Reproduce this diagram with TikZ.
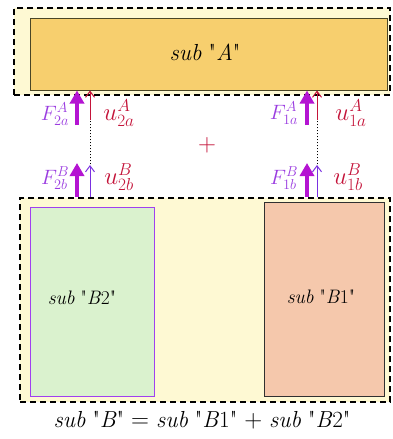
\documentclass[tikz,border=0pt]{standalone}
\usetikzlibrary{arrows.meta,positioning,calc}
\definecolor{cream}{HTML}{FEF9D3}
\definecolor{amber}{HTML}{F7CF6E}
\definecolor{olive}{HTML}{4A4626}
\definecolor{mint}{HTML}{DAF2CE}
\definecolor{violet}{HTML}{A040F0}
\definecolor{salmon}{HTML}{F5C8AC}
\definecolor{coal}{HTML}{303030}
\definecolor{fpurple}{HTML}{B414D2}
\definecolor{flabel}{HTML}{9A3CE0}
\definecolor{crimson}{HTML}{C4143A}
\definecolor{ubpurple}{HTML}{7A30E0}
\newcommand{\qq}[1]{\textquotedbl#1\textquotedbl}
\tikzset{outer/.style={draw=black,dash pattern=on 6pt off 4pt,line width=1.3pt,fill=cream,inner sep=0pt}, subbox/.style={draw,line width=1pt,inner sep=0pt}, farrow/.style={-{Triangle[length=13pt,width=14pt]},line width=4.5pt,draw=fpurple}, uarrow/.style={-{Straight Barb[length=6pt,width=9pt]},line width=1pt,draw=crimson}, ubarrow/.style={uarrow,draw=ubpurple}, flab/.style={text=flabel,font=\fontsize{20}{22}\selectfont}, ulab/.style={text=crimson,font=\fontsize{24}{26}\selectfont}, big/.style={font=\fontsize{23.2}{26}\selectfont}, mid/.style={font=\fontsize{17.28}{20}\selectfont}}

\begin{document}
\begin{tikzpicture}[x=1pt,y=-1pt]
\useasboundingbox (0,0) rectangle (392,439);
\node[outer,minimum width=376pt,minimum height=87pt] (outA) at (202,51.5) {};
\node[subbox,draw=olive,fill=amber,minimum width=357pt,minimum height=72pt] (subA) at (208.5,54) {};
\node[big] (labA) at (205,52) {\textit{sub} \qq{\textit{A}}};
\node[outer,minimum width=370pt,minimum height=204pt] (outB) at (205,300) {};
\node[subbox,draw=violet,fill=mint,minimum width=124pt,minimum height=189pt] (subB2) at (92,301.5) {};
\node[subbox,draw=coal,fill=salmon,minimum width=120pt,minimum height=194pt] (subB1) at (324,299) {};
\node[mid] (labB2) at (82,298) {\scalebox{1.13}{\textit{sub} \qq{\textit{B}2}}};
\node[mid] (labB1) at (321,297) {\scalebox{1.13}{\textit{sub} \qq{\textit{B}1}}};
\coordinate (f2a) at (77,125);
\coordinate (f2b) at (77,163);
\coordinate (u2a) at (90,120);
\coordinate (u2b) at (90,165);
\coordinate (f1a) at (307,125);
\coordinate (f1b) at (307,163);
\coordinate (u1a) at (317,120);
\coordinate (u1b) at (317,165);
\draw[dotted,line width=1pt] (u2a |- outB.north) -- (u2a |- outA.south);
\draw[dotted,line width=1pt] (u1a |- outB.north) -- (u1a |- outA.south);
\draw[farrow] (f2a) -- (f2a |- subA.south);
\draw[uarrow] (u2a) -- (u2a |- subA.south);
\draw[farrow] (f2b |- outB.north) -- (f2b);
\draw[ubarrow] (u2b |- outB.north) -- (u2b);
\draw[farrow] (f1a) -- (f1a |- subA.south);
\draw[uarrow] (u1a) -- (u1a |- subA.south);
\draw[farrow] (f1b |- outB.north) -- (f1b);
\draw[ubarrow] (u1b |- outB.north) -- (u1b);
\node[flab] (lf2a) at (55,114) {$F^{A}_{2a}$};
\node[ulab] (lu2a) at (119,113) {$u^{A}_{2a}$};
\node[flab] (lf2b) at (55,178) {$F^{B}_{2b}$};
\node[ulab] (lu2b) at (119,177) {$u^{B}_{2b}$};
\node[flab] (lf1a) at (284,113) {$F^{A}_{1a}$};
\node[ulab] (lu1a) at (351,113) {$u^{A}_{1a}$};
\node[flab] (lf1b) at (284,178) {$F^{B}_{1b}$};
\node[ulab] (lu1b) at (348,177) {$u^{B}_{1b}$};
\node[text=crimson,font=\fontsize{24}{24}\selectfont] (plus) at (207,145) {$+$};
\node[big] (eq) at (202,420) {\textit{sub} \qq{\textit{B}} $=$ \textit{sub} \qq{\textit{B}1} $+$ \textit{sub} \qq{\textit{B}2}};
\end{tikzpicture}
\end{document}
